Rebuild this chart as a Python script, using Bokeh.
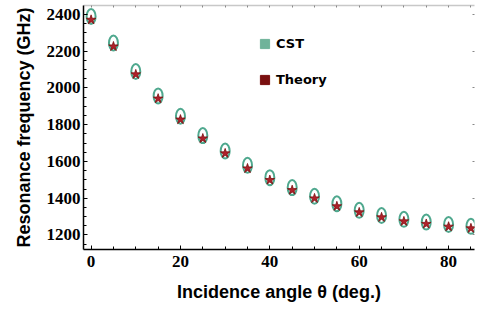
from bokeh.plotting import figure
from bokeh.models import (LinearAxis, Range1d, FixedTicker, Legend, LegendItem,
                          CustomJSTickFormatter)
from bokeh.embed import file_html
from bokeh.resources import INLINE

# ---- data ----
angles = [0, 5, 10, 15, 20, 25, 30, 35, 40, 45, 50, 55, 60, 65, 70, 75, 80, 85]
cst = [2389, 2245, 2090, 1957, 1846, 1741, 1657, 1579, 1512, 1458,
       1411, 1370, 1334, 1306, 1285, 1270, 1257, 1247]
theory = [2371, 2226, 2074, 1942, 1828, 1725, 1644, 1562, 1499, 1444,
          1399, 1356, 1323, 1296, 1274, 1260, 1245, 1236]
x_ticks = [0, 20, 40, 60, 80]
y_ticks = [1200, 1400, 1600, 1800, 2000, 2200, 2400]
series_names = ["CST", "Theory"]

x_minor = list(range(0, 90, 5))
y_minor = list(range(1150, 2450, 50))

p = figure(width=480, height=311, output_backend="svg", toolbar_location=None,
           x_range=Range1d(-1.7, 85.8), y_range=Range1d(1121, 2449),
           min_border_left=83, min_border_right=6, min_border_top=5,
           min_border_bottom=62, x_axis_location=None, y_axis_location=None)
p.outline_line_color = None
p.xgrid.visible = False
p.ygrid.visible = False
p.background_fill_color = "white"
p.border_fill_color = "white"

tick_font = "Liberation Serif"
title_font = "Liberation Sans"
blank = CustomJSTickFormatter(code="return '';")

# bottom axis
xb = LinearAxis(ticker=FixedTicker(ticks=x_ticks, minor_ticks=x_minor))
xb.axis_line_color = "black"
xb.axis_line_width = 1.5
xb.major_tick_in = 4
xb.major_tick_out = 0
xb.minor_tick_in = 3
xb.minor_tick_out = 0
xb.major_tick_line_color = "black"
xb.minor_tick_line_color = "black"
xb.major_label_text_font = tick_font
xb.major_label_text_font_style = "bold"
xb.major_label_text_font_size = "17px"
xb.major_label_text_color = "black"
xb.major_label_standoff = 6
xb.axis_label = "Incidence angle θ (deg.)"
xb.axis_label_text_font = title_font
xb.axis_label_text_font_style = "bold"
xb.axis_label_text_font_size = "18px"
xb.axis_label_text_color = "black"
xb.axis_label_standoff = 12
p.add_layout(xb, "below")

# left axis
yl = LinearAxis(ticker=FixedTicker(ticks=y_ticks, minor_ticks=y_minor))
yl.axis_line_color = "black"
yl.axis_line_width = 1.5
yl.major_tick_in = 4
yl.major_tick_out = 0
yl.minor_tick_in = 3
yl.minor_tick_out = 0
yl.major_tick_line_color = "black"
yl.minor_tick_line_color = "black"
yl.major_label_text_font = tick_font
yl.major_label_text_font_style = "bold"
yl.major_label_text_font_size = "17px"
yl.major_label_text_color = "black"
yl.major_label_standoff = 3
yl.axis_label = "Resonance frequency (GHz)"
yl.axis_label_text_font = title_font
yl.axis_label_text_font_style = "bold"
yl.axis_label_text_font_size = "18px"
yl.axis_label_text_color = "black"
yl.axis_label_standoff = 10
p.add_layout(yl, "left")

# top frame line (grey) with small ticks
xt = LinearAxis(ticker=FixedTicker(ticks=x_minor), formatter=blank)
xt.axis_line_color = "#c8c8c8"
xt.axis_line_width = 1.5
xt.major_tick_in = 2
xt.major_tick_out = 0
xt.minor_tick_line_color = None
xt.major_tick_line_color = "#888888"
xt.major_label_standoff = 0
p.add_layout(xt, "above")

# right side: ticks only
yr = LinearAxis(ticker=FixedTicker(ticks=y_ticks), formatter=blank)
yr.axis_line_color = None
yr.major_tick_in = 2
yr.major_tick_out = 0
yr.minor_tick_line_color = None
yr.major_tick_line_color = "#888888"
yr.major_label_standoff = 0
p.add_layout(yr, "right")

# data marks
p.ellipse(x=angles, y=cst, width=9, height=15, width_units="screen",
          height_units="screen", fill_color="white", line_color="#4fa88e",
          line_width=2)
p.scatter(x=angles, y=theory, marker="star", size=10, fill_color="#b0202a",
          line_color="#7a1010", line_width=0.8)

# legend swatches (square, as in the reference); zero-size so only the legend shows them
r_cst = p.scatter(x=angles[:1], y=cst[:1], marker="square", size=0,
                  fill_color="#6fb39a", line_color="#6fb39a")
r_th = p.scatter(x=angles[:1], y=theory[:1], marker="square", size=0,
                 fill_color="#7a1010", line_color="#7a1010")
legend = Legend(items=[LegendItem(label=series_names[0], renderers=[r_cst]),
                       LegendItem(label=series_names[1], renderers=[r_th])],
                location=(170, 158))
legend.border_line_color = None
legend.background_fill_alpha = 0
legend.padding = 0
legend.margin = 0
legend.glyph_width = 23
legend.glyph_height = 23
legend.label_height = 23
legend.spacing = 13
legend.label_standoff = 0
legend.label_text_font = "DejaVu Sans"
legend.label_text_font_style = "bold"
legend.label_text_font_size = "13px"
legend.label_text_color = "black"
p.add_layout(legend)

open("out.html", "w").write(file_html(p, INLINE))
